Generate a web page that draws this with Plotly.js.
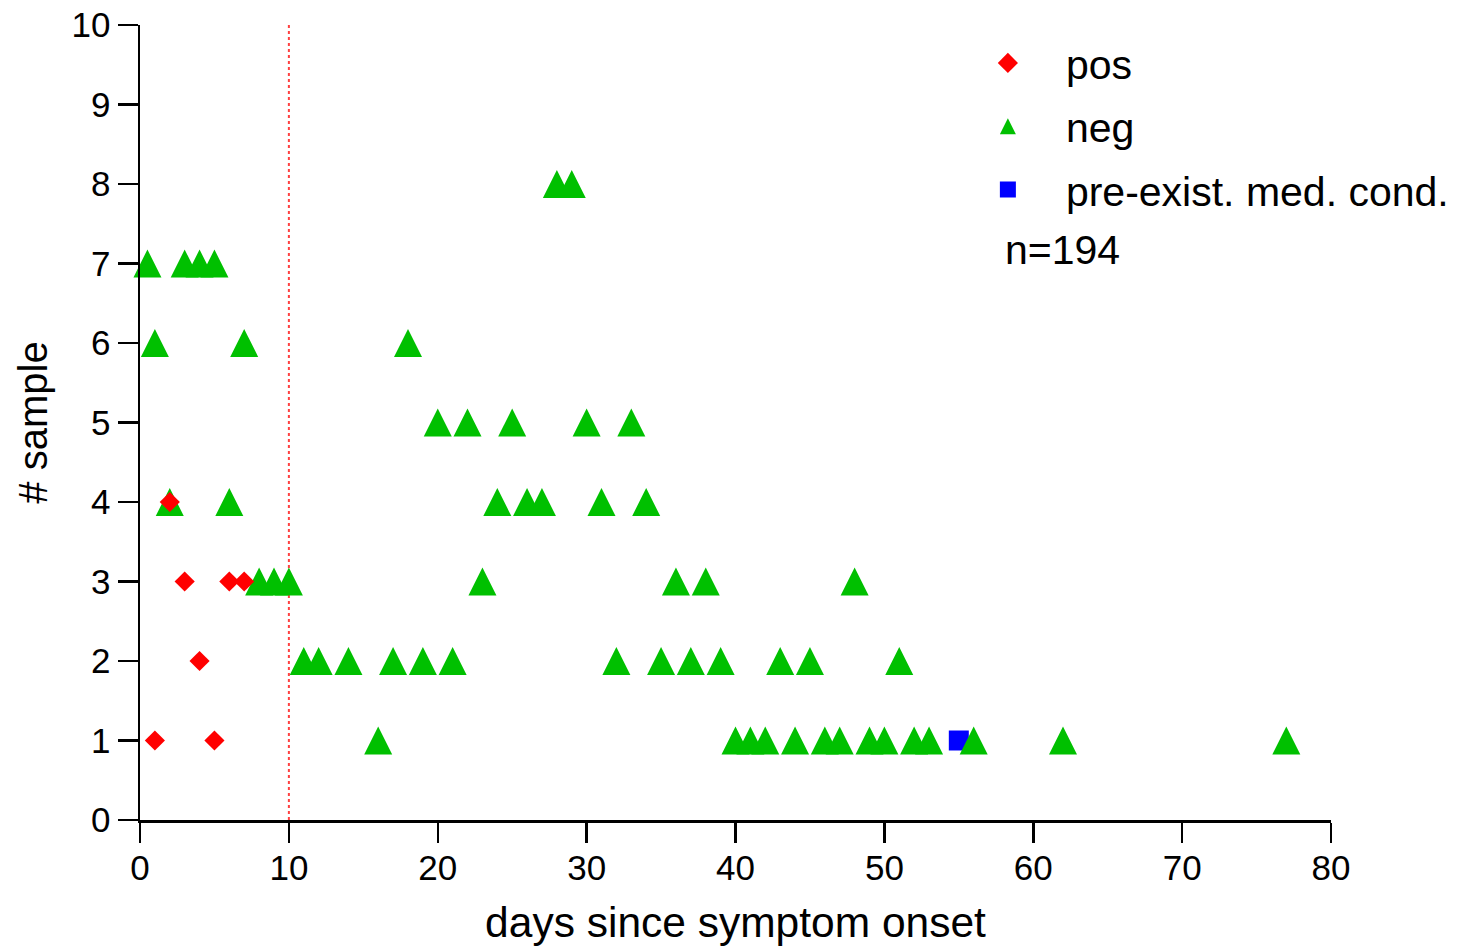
<!DOCTYPE html>
<html>
<head>
<meta charset="utf-8">
<script src="https://cdn.plot.ly/plotly-3.0.1.min.js"></script>
<style>html,body{margin:0;padding:0;background:#fff;}#chart{width:1469px;height:950px;}</style>
</head>
<body>
<div id="chart"></div>
<script>
// ---- data ----
const posDays   = [1, 5, 4, 3, 6, 7, 2];
const posSample = [1, 1, 2, 3, 3, 3, 4];

const negDays = [
  28, 29,
  0.5, 3, 4, 5,
  1, 7, 18,
  20, 22, 25, 30, 33,
  2, 6, 24, 26, 27, 31, 34,
  8, 9, 10, 23, 36, 38, 48,
  11, 12, 14, 17, 19, 21, 32, 35, 37, 39, 43, 45, 51,
  16, 40, 41, 42, 44, 46, 47, 49, 50, 52, 53, 56, 62, 77
];
const negSample = [
  8, 8,
  7, 7, 7, 7,
  6, 6, 6,
  5, 5, 5, 5, 5,
  4, 4, 4, 4, 4, 4, 4,
  3, 3, 3, 3, 3, 3, 3,
  2, 2, 2, 2, 2, 2, 2, 2, 2, 2, 2, 2, 2,
  1, 1, 1, 1, 1, 1, 1, 1, 1, 1, 1, 1, 1, 1
];

const condDays   = [55];
const condSample = [1];

const cutoffDay = 10;
const nLabel = 'n=194';
const seriesNames = ['pos', 'neg', 'pre-exist. med. cond.'];

const xTickVals = [0, 10, 20, 30, 40, 50, 60, 70, 80];
const yTickVals = [0, 1, 2, 3, 4, 5, 6, 7, 8, 9, 10];

// ---- styling ----
const FONT = 'Liberation Sans, Arial, Helvetica, sans-serif';
const TRI = 28;
const GREEN = '#00c000', RED = '#ff0000', BLUE = '#0000ff';

const traces = [
  // pre-existing condition (drawn first, below)
  {
    type: 'scatter', mode: 'markers', name: seriesNames[2],
    x: condDays, y: condSample, legendgroup: 'c', legendrank: 3,
    marker: {symbol: 'square', size: 20, color: BLUE},
    cliponaxis: false
  },
  // negative: upright isosceles triangle (arrow shape rotated and centred)
  {
    type: 'scatter', mode: 'markers', name: seriesNames[1],
    x: negDays, y: negSample, legendgroup: 'b', showlegend: false,
    marker: {symbol: 'arrow-down', angle: 180, standoff: TRI / 2, size: TRI, color: GREEN},
    cliponaxis: false
  },
  // legend entry for negative (no points of its own)
  {
    type: 'scatter', mode: 'markers', name: seriesNames[1],
    x: [null], y: [null], legendgroup: 'b', legendrank: 2,
    marker: {symbol: 'arrow-up', standoff: 8, size: 16, color: GREEN}
  },
  // positive (on top)
  {
    type: 'scatter', mode: 'markers', name: seriesNames[0],
    x: posDays, y: posSample, legendgroup: 'a', legendrank: 1,
    marker: {symbol: 'diamond', size: 15.5, color: RED},
    cliponaxis: false
  }
];

const axisCommon = {
  showline: true, linecolor: '#000', linewidth: 2.5,
  ticks: 'outside', ticklen: 20, tickwidth: 2.5, tickcolor: '#000',
  showgrid: false, zeroline: false,
  tickfont: {family: FONT, size: 35, color: '#000'},
  fixedrange: true
};

const layout = {
  width: 1469, height: 950,
  paper_bgcolor: '#fff', plot_bgcolor: '#fff',
  margin: {l: 140, r: 138, t: 25, b: 130},
  font: {family: FONT, color: '#000'},
  showlegend: true,
  legend: {
    x: 0.68, xanchor: 'left', y: 0.994, yanchor: 'top',
    font: {family: FONT, size: 41, color: '#000'},
    itemwidth: 106, traceorder: 'grouped', tracegroupgap: 7,
    bgcolor: 'rgba(0,0,0,0)', borderwidth: 0
  },
  xaxis: Object.assign({}, axisCommon, {
    range: [0, 80], tickvals: xTickVals, ticktext: xTickVals.map(String),
    ticklabelstandoff: -5,
    title: {text: 'days since symptom onset', font: {family: FONT, size: 42.5, color: '#000'}, standoff: 22}
  }),
  yaxis: Object.assign({}, axisCommon, {
    range: [0, 10], tickvals: yTickVals, ticktext: yTickVals.map(String),
    title: {text: '# sample', font: {family: FONT, size: 40, color: '#000'}, standoff: 12}
  }),
  shapes: [{
    type: 'line', xref: 'x', yref: 'y', x0: cutoffDay, x1: cutoffDay, y0: 0, y1: 10,
    line: {color: '#ff4040', width: 2, dash: 'dot'}, layer: 'below'
  }],
  annotations: [{
    xref: 'paper', yref: 'paper', x: 0.7246, y: 0.717, xanchor: 'left', yanchor: 'middle',
    text: nLabel, showarrow: false, font: {family: FONT, size: 41, color: '#000'}
  }]
};

Plotly.newPlot('chart', traces, layout, {displayModeBar: false, staticPlot: true});
</script>
</body>
</html>
